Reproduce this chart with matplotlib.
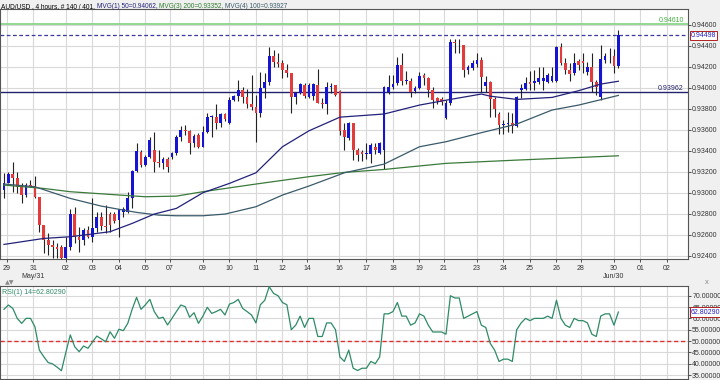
import numpy as np
import matplotlib
matplotlib.use("Agg")
import matplotlib.pyplot as plt

# 4h AUD/USD candles (open, high, low, close)
opens = [0.93026, 0.93095, 0.93178, 0.93137, 0.93057, 0.92978, 0.93073, 0.93064, 0.92962, 0.92692,
         0.92549, 0.92502, 0.92486, 0.92486, 0.92375, 0.92486, 0.92797, 0.92581, 0.92549, 0.92645,
         0.92581, 0.92660, 0.92765, 0.92683, 0.92797, 0.92797, 0.92740, 0.92819, 0.92819, 0.92946,
         0.93206, 0.93391, 0.93264, 0.93343, 0.93406, 0.93295, 0.93280, 0.93318, 0.93343, 0.93375,
         0.93534, 0.93597, 0.93584, 0.93476, 0.93546, 0.93438, 0.93581, 0.93724, 0.93724, 0.93660,
         0.93750, 0.93660, 0.93883, 0.93921, 0.93978, 0.93914, 0.93845, 0.93819, 0.93762, 0.93994,
         0.94057, 0.94302, 0.94248, 0.94232, 0.94169, 0.94137, 0.93908, 0.93946, 0.94026, 0.93908,
         0.93921, 0.94026, 0.93857, 0.93845, 0.94003, 0.94026, 0.93972, 0.93597, 0.93518, 0.93660,
         0.93406, 0.93391, 0.93368, 0.93368, 0.93438, 0.93375, 0.93406, 0.93962, 0.94010, 0.94042,
         0.94216, 0.94067, 0.94067, 0.93972, 0.93994, 0.94121, 0.94089, 0.93978, 0.93899, 0.93889,
         0.93708, 0.93851, 0.94438, 0.94423, 0.94407, 0.94169, 0.94184, 0.94226, 0.94264, 0.94016,
         0.94057, 0.93889, 0.93750, 0.93645, 0.93654, 0.93667, 0.93635, 0.93978, 0.93984, 0.94057,
         0.94042, 0.94057, 0.94067, 0.94057, 0.94067, 0.94067, 0.94384, 0.94232, 0.94169, 0.94137,
         0.94257, 0.94257, 0.94153, 0.94200, 0.94057, 0.93908, 0.94264, 0.94295, 0.94302, 0.94207]
highs = [0.93184, 0.93200, 0.93295, 0.93200, 0.93089, 0.93089, 0.93121, 0.93162, 0.92962, 0.92692,
         0.92613, 0.92549, 0.92518, 0.92502, 0.92581, 0.92845, 0.92867, 0.92676, 0.92660, 0.92683,
         0.92946, 0.92819, 0.92819, 0.92883, 0.92819, 0.92819, 0.92845, 0.92867, 0.93010, 0.93216,
         0.93470, 0.93406, 0.93359, 0.93533, 0.93581, 0.93406, 0.93343, 0.93343, 0.93391, 0.93549,
         0.93635, 0.93645, 0.93597, 0.93559, 0.93572, 0.93635, 0.93762, 0.93740, 0.93845, 0.93762,
         0.93762, 0.93908, 0.93930, 0.94073, 0.94003, 0.93984, 0.94121, 0.93930, 0.94153, 0.94137,
         0.94384, 0.94359, 0.94327, 0.94264, 0.94226, 0.94143, 0.93962, 0.94048, 0.94042, 0.94048,
         0.94042, 0.94175, 0.93899, 0.94057, 0.94042, 0.94026, 0.93978, 0.93660, 0.93676, 0.93667,
         0.93422, 0.93406, 0.93470, 0.93476, 0.93476, 0.93486, 0.94016, 0.94121, 0.94121, 0.94295,
         0.94327, 0.94162, 0.94089, 0.94016, 0.94153, 0.94137, 0.94099, 0.94003, 0.93914, 0.93908,
         0.93883, 0.94461, 0.94461, 0.94461, 0.94407, 0.94216, 0.94264, 0.94334, 0.94289, 0.94111,
         0.94067, 0.93908, 0.93772, 0.93692, 0.93772, 0.93756, 0.93921, 0.94035, 0.94099, 0.94162,
         0.94169, 0.94194, 0.94194, 0.94137, 0.94200, 0.94397, 0.94423, 0.94280, 0.94238, 0.94327,
         0.94270, 0.94327, 0.94248, 0.94334, 0.94073, 0.94407, 0.94334, 0.94375, 0.94365, 0.94550]
lows = [0.92952, 0.93089, 0.93010, 0.93000, 0.92899, 0.92962, 0.93051, 0.92946, 0.92629, 0.92422,
        0.92406, 0.92375, 0.92375, 0.92359, 0.92359, 0.92454, 0.92518, 0.92438, 0.92502, 0.92565,
        0.92533, 0.92629, 0.92645, 0.92613, 0.92629, 0.92708, 0.92581, 0.92772, 0.92803, 0.92851,
        0.93200, 0.93248, 0.93254, 0.93327, 0.93200, 0.93248, 0.93222, 0.93200, 0.93321, 0.93359,
        0.93495, 0.93549, 0.93368, 0.93438, 0.93422, 0.93432, 0.93572, 0.93527, 0.93603, 0.93622,
        0.93686, 0.93654, 0.93876, 0.93876, 0.93857, 0.93803, 0.93788, 0.93486, 0.93718, 0.93899,
        0.94026, 0.94200, 0.94200, 0.94089, 0.94105, 0.93762, 0.93845, 0.93940, 0.93899, 0.93899,
        0.93883, 0.93851, 0.93803, 0.93750, 0.93953, 0.93921, 0.93549, 0.93406, 0.93502, 0.93311,
        0.93305, 0.93305, 0.93318, 0.93280, 0.93368, 0.93368, 0.93222, 0.93940, 0.93984, 0.94026,
        0.94026, 0.94035, 0.93914, 0.93946, 0.93984, 0.94026, 0.93908, 0.93803, 0.93845, 0.93835,
        0.93699, 0.93835, 0.94327, 0.94327, 0.94099, 0.94130, 0.94169, 0.94200, 0.93962, 0.93962,
        0.93718, 0.93724, 0.93559, 0.93559, 0.93581, 0.93572, 0.93629, 0.93899, 0.93978, 0.93978,
        0.93978, 0.94035, 0.93978, 0.94042, 0.94057, 0.94057, 0.94216, 0.94130, 0.94067, 0.94121,
        0.94169, 0.94137, 0.94121, 0.93962, 0.93930, 0.93883, 0.94232, 0.94238, 0.94137, 0.94184]
closes = [0.93095, 0.93178, 0.93137, 0.93057, 0.92978, 0.93073, 0.93064, 0.92962, 0.92692, 0.92549,
          0.92502, 0.92486, 0.92460, 0.92375, 0.92486, 0.92797, 0.92581, 0.92549, 0.92645, 0.92581,
          0.92660, 0.92765, 0.92683, 0.92676, 0.92692, 0.92733, 0.92841, 0.92841, 0.92946, 0.93206,
          0.93397, 0.93264, 0.93343, 0.93502, 0.93295, 0.93280, 0.93318, 0.93248, 0.93375, 0.93527,
          0.93597, 0.93584, 0.93470, 0.93540, 0.93432, 0.93581, 0.93724, 0.93730, 0.93660, 0.93750,
          0.93699, 0.93883, 0.93921, 0.93978, 0.93908, 0.93845, 0.93819, 0.93756, 0.93994, 0.94057,
          0.94302, 0.94248, 0.94226, 0.94169, 0.94143, 0.93908, 0.93946, 0.94035, 0.93921, 0.94026,
          0.94035, 0.93857, 0.93845, 0.94003, 0.94016, 0.93930, 0.93591, 0.93534, 0.93660, 0.93406,
          0.93359, 0.93368, 0.93375, 0.93454, 0.93406, 0.93476, 0.94010, 0.94003, 0.94035, 0.94216,
          0.94067, 0.94073, 0.93962, 0.93994, 0.94115, 0.94089, 0.93978, 0.93883, 0.93876, 0.93867,
          0.93857, 0.94438, 0.94423, 0.94429, 0.94169, 0.94194, 0.94232, 0.94264, 0.94105, 0.94057,
          0.93889, 0.93794, 0.93645, 0.93654, 0.93667, 0.93635, 0.93908, 0.93994, 0.94048, 0.94035,
          0.94067, 0.94089, 0.94089, 0.94121, 0.94111, 0.94391, 0.94232, 0.94169, 0.94130, 0.94238,
          0.94216, 0.94232, 0.94200, 0.94057, 0.94010, 0.94270, 0.94302, 0.94289, 0.94207, 0.94498]

# moving averages read at a few bars
ma50_bar = [0, 9, 15, 24, 29, 34, 39, 45, 51, 57, 63, 69, 76, 86, 94, 101, 108, 110, 116, 124, 130, 135, 139]
ma50_val = [0.92508, 0.92565, 0.92581, 0.92629, 0.92708, 0.92797, 0.92851, 0.93000, 0.93089, 0.93190,
            0.93438, 0.93590, 0.93720, 0.93750, 0.93835, 0.93889, 0.93940, 0.93920, 0.93889, 0.93908,
            0.93972, 0.94035, 0.94062]
ma100_bar = [0, 7, 15, 22, 27, 30, 35, 39, 45, 50, 57, 63, 69, 77, 86, 94, 100, 108, 116, 124, 130, 134, 139]
ma100_val = [0.93083, 0.93057, 0.92946, 0.92873, 0.92835, 0.92813, 0.92787, 0.92781, 0.92781, 0.92797,
             0.92867, 0.92978, 0.93064, 0.93190, 0.93273, 0.93438, 0.93486, 0.93572, 0.93654, 0.93788,
             0.93835, 0.93876, 0.93927]
ma200_bar = [0, 9, 15, 23, 32, 39, 45, 57, 69, 77, 86, 100, 116, 139]
ma200_val = [0.93073, 0.93041, 0.93010, 0.92987, 0.92962, 0.92968, 0.93010, 0.93083, 0.93153, 0.93194,
             0.93222, 0.93280, 0.93311, 0.93352]

rsi = [64.0, 65.9, 64.4, 60.0, 57.8, 60.0, 60.0, 56.3, 46.0, 43.1,
       40.5, 39.9, 38.5, 36.9, 45.0, 52.7, 47.5, 45.3, 47.8, 46.8,
       49.5, 52.2, 51.0, 49.7, 54.1, 51.2, 55.2, 54.6, 57.8, 64.0,
       69.3, 64.0, 66.0, 68.4, 63.0, 60.0, 60.5, 57.1, 60.0, 63.0,
       65.9, 65.2, 60.5, 62.5, 57.8, 61.0, 64.9, 62.2, 63.0, 64.0,
       61.5, 66.3, 67.0, 68.4, 64.4, 63.0, 61.5, 58.0, 66.0, 68.0,
       74.0, 71.0, 70.0, 67.0, 66.0, 55.0, 57.0, 61.0, 56.0, 60.0,
       60.0, 52.0, 52.0, 58.0, 58.0, 55.0, 43.0, 41.0, 46.0, 38.0,
       37.0, 38.0, 38.0, 41.0, 40.0, 43.0, 62.0, 62.0, 63.0, 67.0,
       61.0, 61.0, 57.0, 58.0, 62.0, 61.0, 57.0, 54.0, 54.0, 54.0,
       53.0, 70.0, 69.0, 69.0, 60.0, 61.0, 62.0, 63.0, 57.0, 56.0,
       49.0, 46.0, 41.0, 42.0, 42.0, 41.0, 55.0, 58.0, 60.0, 59.0,
       60.0, 60.0, 60.0, 61.0, 60.0, 68.0, 60.0, 57.0, 56.0, 60.0,
       59.0, 59.0, 58.0, 53.0, 52.0, 61.0, 62.0, 62.0, 57.0, 62.8]

day_pos = [0.7, 6.6, 14, 20, 26, 32, 37.5, 45, 51, 57, 63, 68.6, 75.8, 82, 88, 94, 99.5,
           107, 113, 119, 125, 130.5, 138, 144, 150]
day_lbl = ['29', '31\nMay/31', '02', '03', '04', '05', '07', '09', '10', '11', '12', '14', '16',
           '17', '18', '19', '21', '23', '24', '25', '26', '28', '30\nJun/30', '01', '02']

price_ticks = [0.924, 0.926, 0.928, 0.930, 0.932, 0.934, 0.936, 0.938, 0.940, 0.942, 0.944, 0.946]
rsi_ticks = [35, 40, 45, 50, 55, 60, 65, 70]

last_price = 0.94498
top_line = 0.94610
level_line = 0.93962
rsi_last = 62.80290

plt.rcParams['font.family'] = ['Liberation Sans', 'DejaVu Sans']
fs = 5

fig = plt.figure(figsize=(7.2, 3.8), dpi=100, facecolor='#f0f0f0')
ax = fig.add_axes([0.0, 0.3184, 688 / 720, 0.6579])
ax2 = fig.add_axes([0.0, 0.0026, 688 / 720, 0.2447])

grid_c = '#d9d9d9'
for a in (ax, ax2):
    a.set_facecolor('white')
    a.set_xlim(-0.9, 154.75)
    a.set_xticks(day_pos)
    a.grid(True, color=grid_c, lw=0.8)
    a.set_axisbelow(True)
    a.yaxis.tick_right()
    a.tick_params(axis='y', length=2, width=0.6, labelsize=fs, pad=1, colors='#333333')
    a.tick_params(axis='x', length=2, width=0.6, labelsize=fs, pad=2, colors='#333333')
    for s in a.spines.values():
        s.set_color('#555555')
        s.set_linewidth(0.8)

# candles
x = np.arange(len(closes))
o = np.array(opens)
c = np.array(closes)
colors = ['#1414d2' if cc > oo else ('#e23b3b' if cc < oo else '#999999') for oo, cc in zip(o, c)]
ax.vlines(x, lows, highs, color='#222222', lw=0.8, zorder=2)
ax.bar(x, np.maximum(np.abs(c - o), 0.00004), bottom=np.minimum(o, c), width=0.62,
       color=colors, lw=0, zorder=3)

ax.plot(ma200_bar, ma200_val, color='#3a7a3a', lw=0.9, zorder=4)
ax.plot(ma100_bar, ma100_val, color='#3a5a6a', lw=0.9, zorder=4)
ax.plot(ma50_bar, ma50_val, color='#22227a', lw=0.9, zorder=4)

ax.axhline(top_line, color='#7fd37f', lw=1.2, zorder=1)
ax.axhline(level_line, color='#22226e', lw=1.0, zorder=1)
ax.axhline(last_price, color='#3a3aa0', lw=0.9, ls=(0, (3, 2)), zorder=1)
ax.text(153.8, top_line, '%.5f' % top_line, color='#40b040', fontsize=fs, ha='right', va='bottom')
ax.text(153.8, level_line, '%.5f' % level_line, color='#22226e', fontsize=fs, ha='right', va='bottom')

ax.set_ylim(0.92369, 0.94750)
ax.set_yticks(price_ticks)
ax.set_yticklabels(['%.5f' % v for v in price_ticks])
ax.set_xticklabels(day_lbl)
ax.text(1.004, last_price, '%.5f' % last_price, transform=ax.get_yaxis_transform(), color='#2020c0',
        fontsize=fs, va='center', ha='left', zorder=6,
        bbox=dict(boxstyle='square,pad=0.15', fc='white', ec='#b02020', lw=0.7))

# header
hdr = [('AUD/USD , 4 hours, # 140 / 401, ', '#000000'),
       ('MVG(1) 50=0.94062, ', '#22227a'),
       ('MVG(3) 200=0.93352, ', '#2e7d2e'),
       ('MVG(4) 100=0.93927', '#3a5a6a')]
tx = 0.002
for s, col in hdr:
    t = fig.text(tx, 0.992, s, color=col, fontsize=4.7, va='top', ha='left')
    fig.canvas.draw()
    bb = t.get_window_extent()
    tx += bb.width / fig.bbox.width

# RSI panel
ax2.plot(x, rsi, color='#2e8b66', lw=0.9, zorder=3)
ax2.axhline(50, color='#e03030', lw=1.0, ls=(0, (3, 2)), zorder=2)
ax2.set_ylim(33.24, 74.28)
ax2.set_yticks(rsi_ticks)
ax2.set_yticklabels(['%.5f' % v for v in rsi_ticks])
ax2.set_xticklabels([])
ax2.tick_params(axis='x', length=0)
ax2.text(0.003, 0.97, 'RSI(1) 14=%.5f' % rsi_last, transform=ax2.transAxes, color='#2e8b66',
         fontsize=fs, va='top', ha='left')
ax2.text(1.004, rsi_last, '%.5f' % rsi_last, transform=ax2.get_yaxis_transform(), color='#2020c0',
         fontsize=fs, va='center', ha='left', zorder=6,
         bbox=dict(boxstyle='square,pad=0.15', fc='white', ec='#b02020', lw=0.7))

fig.text(0.007, 1 - 283 / 380, '\u25b2\u25bc', color='#8a8a8a', fontsize=4.5, va='center', ha='left',
         family='DejaVu Sans')
fig.text(707 / 720, 1 - 283 / 380, 'x', color='#888888', fontsize=5.5, va='center', ha='center')

fig.savefig('out.png', dpi=100, facecolor=fig.get_facecolor())
